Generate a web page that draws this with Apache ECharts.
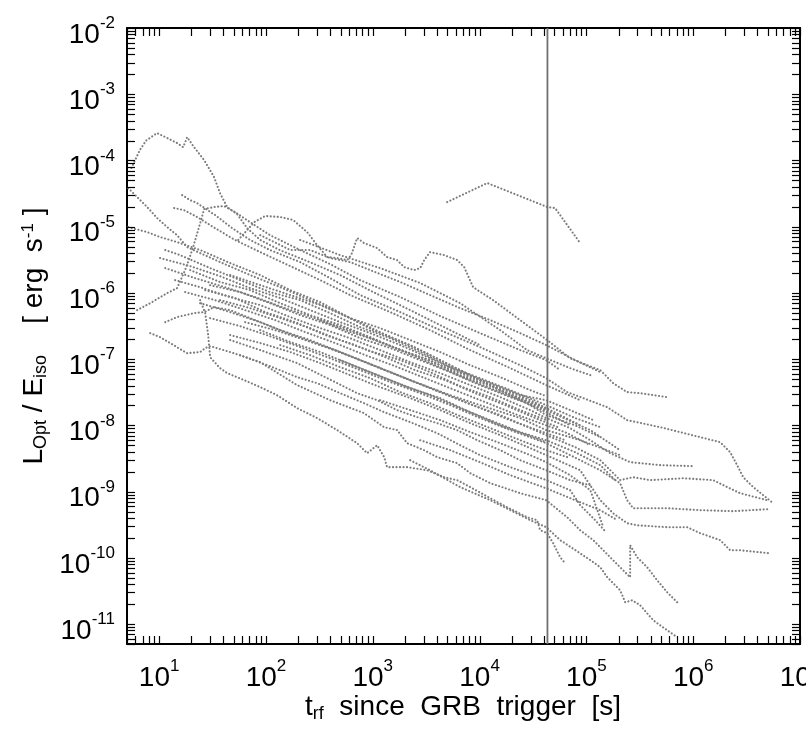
<!DOCTYPE html>
<html><head><meta charset="utf-8">
<script src="https://cdn.jsdelivr.net/npm/echarts@6/dist/echarts.min.js"></script>
<style>html,body{margin:0;padding:0;background:#fff}#c{width:806px;height:732px}</style>
</head><body><div id="c"></div>
<script>
// ---- axis ranges / tick labels (exponents of ten) ----
const xRange = [5, 1e7];
const yRange = [5e-12, 1e-2];
const xTickExponents = [1, 2, 3, 4, 5, 6, 7];
const yTickExponents = [-2, -3, -4, -5, -6, -7, -8, -9, -10, -11];
const markTime = 43200; // vertical reference line [s]

// ---- light curves: [t_rf (s), L_Opt/E_iso (erg s^-1)] ----
const grbA = [[5.5,7.7e-5],[6.6,1.44e-4],[7.55,2.0e-4],[9.57,2.59e-4],[11.9,2.18e-4],[14.7,1.83e-4],[16.8,1.59e-4],[18.3,2.25e-4],[21.2,1.59e-4],[26.4,1.01e-4],[32.7,5.6e-5],[37.2,3.2e-5],[43.3,1.98e-5],[53.7,1.55e-5],[66.7,9.5e-6],[88.3,6.3e-6],[136,4.4e-6],[259,2.9e-6],[495,1.86e-6],[1010,1.03e-6],[2240,5.5e-7],[5310,2.74e-7],[1.01e4,1.63e-7]];
const grbB = [[5.13,3.83e-5],[6.22,2.8e-5],[7.73,1.98e-5],[9.57,1.35e-5],[11.9,9.86e-6],[14.7,7.46e-6],[18.3,4.92e-6],[24.2,3.99e-6],[37.2,2.92e-6],[71.1,1.86e-6],[136,1.22e-6],[259,7.78e-7],[495,4.95e-7],[1010,2.74e-7],[2240,1.63e-7],[5310,8.1e-8],[1.01e4,4.82e-8],[2.4e4,2.4e-8],[4.21e4,1.58e-8],[7.05e4,1.0e-8]];
const grbC = [[5.13,9.86e-6],[7.73,8.28e-6],[10.2,6.97e-6],[14.7,5.85e-6],[24.2,4.44e-6],[46.2,2.82e-6],[88.3,1.86e-6],[169,1.1e-6],[322,7.26e-7],[614,4.16e-7],[1170,2.56e-7],[2780,1.37e-7],[6580,6.82e-8],[1.56e4,3.4e-8],[4.21e4,1.7e-8],[1.09e5,8.47e-9],[2.07e5,4.22e-9]];
const grbD = [[16.4,3.0e-5],[19.5,2.52e-5],[22.7,2.27e-5],[33.4,1.5e-5],[48.3,9.5e-6],[71.1,6.3e-6],[109,4.44e-6],[209,2.92e-6],[399,1.67e-6],[762,9.27e-7],[1810,5.13e-7],[4280,2.74e-7],[1.01e4,1.52e-7],[2.4e4,8.1e-8],[4.21e4,5.16e-8],[6.61e4,3.18e-8],[9.33e4,2.58e-8],[1.57e5,1.88e-8],[2.41e5,1.2e-8],[4.91e5,9.4e-9],[1.16e6,6.64e-9],[1.79e6,5.57e-9],[2.22e6,3.94e-9],[2.58e6,2.51e-9],[2.94e6,1.65e-9],[3.65e6,1.17e-9],[5.61e6,6.68e-10]];
const grbE = [[13.8,1.91e-5],[17.1,1.78e-5],[22.7,1.4e-5],[33.4,9.5e-6],[51.4,6.3e-6],[88.3,4.13e-6],[169,2.54e-6],[322,1.56e-6],[614,9.27e-7],[1460,5.13e-7],[3440,2.74e-7],[8170,1.37e-7],[1.94e4,7.31e-8],[4.21e4,4.05e-8],[8.75e4,2.4e-8]];
const grbF = [[55,6.3e-6],[66.7,8.9e-6],[77.6,1.17e-5],[98.4,1.45e-5],[136,1.4e-5],[180,1.26e-5],[209,1.02e-5],[243,8.28e-6],[301,5.27e-6],[374,3.48e-6],[465,3.36e-6],[575,3.13e-6],[628,3.72e-6],[714,6.73e-6],[830,5.65e-6],[1100,4.75e-6],[1360,3.48e-6],[1690,3.13e-6],[1970,2.45e-6],[2440,2.21e-6],[2780,2.37e-6],[3030,3.13e-6],[3440,4.13e-6],[4660,3.72e-6],[6170,3.13e-6],[7180,2.45e-6],[8710,1.22e-6],[1.34e4,7.78e-7],[2.4e4,3.88e-7],[4.3e4,1.94e-7],[7.05e4,1.03e-7],[1.02e5,8.1e-8],[1.35e5,6.82e-8],[1.78e5,4.34e-8],[2.41e5,3.18e-8],[3.19e5,3.06e-8],[5.71e5,2.67e-8]];
const grbIso = [[4970,2.35e-5],[1.18e4,4.56e-5],[4.3e4,1.98e-5],[5.1e4,1.91e-5],[8.75e4,5.65e-6]];
const grbR1 = [[6.22,5.5e-7],[8.24,7.0e-7],[11.9,9.93e-7],[14.7,1.18e-6],[17.5,2.21e-6],[20.4,4.44e-6],[23.2,8.9e-6],[26.4,1.85e-5],[32.7,1.98e-5],[40.6,2.05e-5],[51.4,1.66e-5],[71.1,1.17e-5],[109,7.46e-6],[209,4.44e-6],[399,2.72e-6],[762,1.56e-6],[1810,8.65e-7],[4280,4.47e-7],[1.01e4,2.47e-7],[2.4e4,1.37e-7],[4.21e4,9.66e-8],[5.69e4,6.82e-8]];
const grbR2 = [[11.4,3.62e-7],[14.7,4.31e-7],[21.2,4.95e-7],[26.4,5.13e-7],[32.7,6.1e-7],[46.2,5.5e-7],[71.1,4.16e-7],[136,2.74e-7],[259,1.94e-7],[495,1.28e-7],[1010,8.1e-8],[2240,4.82e-8],[5310,2.86e-8],[1.01e4,2.02e-8],[2.4e4,1.29e-8],[4.21e4,8.47e-9],[8.75e4,5.97e-9],[2.07e5,3.55e-9]];
const grbL1 = [[8.24,2.47e-7],[10.2,2.15e-7],[12.7,1.75e-7],[15.7,1.42e-7],[18.3,1.23e-7],[24.2,1.28e-7],[27,1.47e-7],[30,1.57e-7],[46.2,1.28e-7],[88.3,9.0e-8],[196,4.05e-8],[399,2.4e-8],[830,1.53e-8],[1280,9.4e-9],[1690,8.47e-9],[2100,5.38e-9],[3030,4.22e-9],[4010,3.31e-9],[6170,2.69e-9],[8170,1.9e-9],[1.26e4,1.34e-9],[2.4e4,9.46e-10],[4.21e4,7.41e-10],[6.61e4,4.1e-10],[8.75e4,2.61e-10],[1.16e5,1.85e-10],[1.44e5,1.3e-10],[1.78e5,9.2e-11],[2.21e5,6.5e-11],[2.57e5,5.09e-11],[2.57e5,1.55e-10],[2.99e5,1.02e-10],[3.71e5,7.2e-11],[4.6e5,4.59e-11],[5.71e5,3.02e-11],[7.24e5,2.06e-11]];
const grbLow = [[24.2,7.78e-7],[27,4.95e-7],[28.8,2.31e-7],[30,1.07e-7],[37.2,7.31e-8],[43.3,6.15e-8],[62.5,4.82e-8],[88.3,3.78e-8],[127,2.86e-8],[196,1.82e-8],[301,1.29e-8],[465,8.47e-9],[714,5.38e-9],[885,3.8e-9],[1100,5.02e-9],[1280,3.31e-9],[1360,2.34e-9],[2100,2.34e-9],[3230,2.1e-9],[4660,1.65e-9],[6170,1.49e-9],[8170,1.17e-9],[1.26e4,7.94e-10],[1.81e4,5.81e-10],[2.79e4,4.1e-10],[3.46e4,3.7e-10],[3.69e4,2.61e-10],[4.3e4,2.36e-10],[4.89e4,1.66e-10],[5.69e4,1.02e-10],[6.32e4,8.3e-11]];
const grbBottom = [[2240,2.98e-9],[3440,2.1e-9],[6580,1.17e-9],[1.26e4,7.41e-10],[1.94e4,5.24e-10],[2.98e4,3.7e-10],[4.21e4,2.9e-10],[5.69e4,1.85e-10],[8.75e4,1.17e-10],[1.16e5,8.6e-11],[1.35e5,7.2e-11],[1.57e5,5.09e-11],[2.07e5,3.24e-11],[2.31e5,2.13e-11],[2.69e5,2.29e-11],[3.19e5,1.92e-11],[4.23e5,1.14e-11],[5.71e5,8.05e-12],[7.1e5,6.3e-12]];
const band1 = [[11.4,4.44e-6],[15.7,3.72e-6],[30,2.37e-6],[57.3,1.56e-6],[109,1.03e-6],[209,7.78e-7],[399,4.95e-7],[762,3.04e-7],[1460,2.07e-7],[2780,1.28e-7],[5310,7.57e-8],[1.01e4,5.16e-8],[1.94e4,3.4e-8],[4.21e4,2.02e-8],[7.85e4,1.29e-8],[1.35e5,9.4e-9]];
const band2 = [[10.2,3.36e-6],[19.5,2.54e-6],[37.2,1.79e-6],[71.1,1.18e-6],[136,8.36e-7],[259,5.5e-7],[495,3.62e-7],[946,2.47e-7],[1810,1.63e-7],[3440,1.03e-7],[6580,6.37e-8],[1.26e4,4.34e-8],[2.4e4,2.86e-8],[4.21e4,2.4e-8],[7.05e4,1.7e-8],[1.16e5,1.2e-8]];
const band3 = [[11.4,2.37e-6],[21.7,1.67e-6],[41.5,1.22e-6],[79.3,8.65e-7],[151,5.89e-7],[289,4.16e-7],[552,2.74e-7],[1050,1.94e-7],[2010,1.28e-7],[3840,8.1e-8],[7330,5.16e-8],[1.4e4,3.4e-8],[2.67e4,2.24e-8],[4.21e4,1.43e-8],[7.85e4,1.0e-8],[1.35e5,6.64e-9]];
const band4 = [[14.1,1.56e-6],[24.2,1.22e-6],[46.2,8.65e-7],[88.3,6.55e-7],[169,4.31e-7],[322,2.94e-7],[614,2.07e-7],[1170,1.37e-7],[2240,9.0e-8],[4280,6.15e-8],[8170,4.05e-8],[1.56e4,2.67e-8],[2.98e4,1.7e-8],[4.21e4,1.29e-8],[7.05e4,9.08e-9],[1.09e5,5.97e-9],[1.67e5,3.8e-9],[2.57e5,2.78e-9],[4.91e5,2.51e-9],[1.0e6,2.42e-9]];
const band5 = [[17.5,1.03e-6],[33.4,7.78e-7],[63.8,5.5e-7],[122,3.88e-7],[233,2.56e-7],[445,1.75e-7],[849,1.15e-7],[1620,7.83e-8],[3090,5.16e-8],[5900,3.4e-8],[1.13e4,2.24e-8],[2.15e4,1.48e-8],[4.21e4,1.0e-8],[6.32e4,7.9e-9],[1.09e5,5.02e-9]];
const band6 = [[24.2,7.0e-7],[46.2,5.13e-7],[88.3,3.62e-7],[169,2.39e-7],[322,1.63e-7],[614,1.11e-7],[1170,7.31e-8],[2240,4.82e-8],[4280,3.18e-8],[8170,2.09e-8],[1.56e4,1.43e-8],[2.98e4,9.08e-9],[4.21e4,7.11e-9],[7.85e4,4.69e-9],[1.35e5,2.98e-9],[2.07e5,1.49e-9],[2.74e5,1.65e-9],[3.96e5,1.49e-9],[8.07e5,1.59e-9],[1.54e6,1.49e-9],[2.08e6,1.17e-9],[2.75e6,9.46e-10],[4.93e6,7.41e-10]];
const band7 = [[30,4.16e-7],[57.3,3.15e-7],[109,2.22e-7],[209,1.52e-7],[399,1.03e-7],[762,6.82e-8],[1460,4.5e-8],[2780,3.06e-8],[5310,2.02e-8],[1.01e4,1.29e-8],[1.94e4,8.47e-9],[4.21e4,5.38e-9],[7.05e4,3.55e-9],[1.35e5,2.1e-9],[2.07e5,1.34e-9],[2.41e5,7.41e-10],[2.74e5,5.61e-10],[5.71e5,5.61e-10],[1.16e6,5.24e-10],[2.37e6,5.06e-10],[4.93e6,5.42e-10]];
const band8 = [[46.2,2.31e-7],[88.3,1.75e-7],[169,1.28e-7],[322,8.71e-8],[614,5.73e-8],[1170,3.78e-8],[2240,2.58e-8],[4280,1.7e-8],[8170,1.08e-8],[1.56e4,7.11e-9],[2.98e4,4.53e-9],[4.21e4,3.55e-9],[8.75e4,2.1e-9],[1.35e5,7.41e-10],[1.78e5,4.72e-10],[2.41e5,3.33e-10],[2.99e5,3.1e-10],[5.71e5,2.9e-10],[8.79e5,2.9e-10],[1.16e6,2.36e-10],[1.79e6,1.85e-10],[2.22e6,1.3e-10],[2.75e6,1.3e-10],[5.26e6,1.17e-10]];
const band9 = [[19.5,2.21e-6],[37.2,1.46e-6],[71.1,1.1e-6],[136,7.0e-7],[259,4.62e-7],[495,3.27e-7],[946,2.15e-7],[1810,1.37e-7],[3440,9.66e-8],[6580,5.73e-8],[1.26e4,3.91e-8],[2.4e4,2.58e-8],[4.21e4,1.82e-8]];
const band10 = [[27,1.1e-6],[51.4,8.36e-7],[98.4,5.13e-7],[188,3.62e-7],[358,2.31e-7],[684,1.63e-7],[1310,1.07e-7],[2490,6.82e-8],[4760,4.82e-8],[9100,3.06e-8],[1.74e4,2.02e-8],[3.32e4,1.29e-8],[5.69e4,9.08e-9]];
const band11 = [[37.2,7.78e-7],[71.1,5.89e-7],[136,4.16e-7],[259,2.94e-7],[495,1.94e-7],[946,1.32e-7],[1810,9.66e-8],[3440,6.37e-8],[6580,3.91e-8],[1.26e4,2.67e-8],[2.4e4,1.7e-8],[4.21e4,1.2e-8]];
const band12 = [[63.8,3.62e-7],[122,2.74e-7],[233,1.94e-7],[445,1.37e-7],[849,9.0e-8],[1620,5.93e-8],[3090,3.91e-8],[5900,2.58e-8],[1.13e4,1.7e-8],[2.15e4,1.12e-8],[4.21e4,7.62e-9],[6.32e4,5.97e-9]];
const band13 = [[88.3,2.74e-7],[169,1.81e-7],[322,1.28e-7],[614,8.41e-8],[1170,5.53e-8],[2240,3.65e-8],[4280,2.58e-8],[8170,1.58e-8],[1.56e4,1.0e-8],[2.98e4,6.87e-9],[4.21e4,5.57e-9]];
const band14 = [[136,1.63e-7],[259,1.15e-7],[495,7.57e-8],[946,5.16e-8],[1810,3.18e-8],[3440,2.16e-8],[6580,1.38e-8],[1.26e4,9.08e-9],[2.4e4,5.97e-9],[4.21e4,4.22e-9],[7.05e4,3.2e-9]];
const band15 = [[30,1.31e-6],[57.3,1.03e-6],[109,7.0e-7],[209,4.62e-7],[399,3.27e-7],[762,2.07e-7],[1460,1.47e-7],[2780,9.66e-8],[5310,6.37e-8],[1.01e4,4.05e-8],[1.94e4,2.67e-8],[4.21e4,1.7e-8]];
const band16 = [[46.2,1.86e-6],[88.3,1.31e-6],[169,9.27e-7],[322,6.55e-7],[614,4.16e-7],[1170,2.94e-7],[2240,1.94e-7],[4280,1.28e-7],[8170,8.1e-8],[1.56e4,5.35e-8],[2.98e4,3.4e-8],[4.21e4,2.76e-8]];
const band17 = [[322,3.88e-7],[614,2.74e-7],[1170,1.81e-7],[2240,1.23e-7],[4280,8.1e-8],[8170,5.35e-8],[1.56e4,3.65e-8],[2.98e4,2.4e-8],[5.69e4,1.43e-8],[8.75e4,1.0e-8]];
const band18 = [[495,9.66e-8],[946,6.37e-8],[1810,4.19e-8],[3440,2.86e-8],[6580,1.82e-8],[1.26e4,1.2e-8],[2.4e4,7.9e-9],[4.21e4,5.97e-9],[7.85e4,3.94e-9],[1.35e5,2.51e-9],[1.86e5,1.49e-9]];
const band19 = [[1170,2.4e-8],[2240,1.7e-8],[4280,1.2e-8],[8170,7.9e-9],[1.56e4,5.38e-9],[2.98e4,3.55e-9],[4.21e4,2.78e-9],[7.05e4,1.77e-9],[1.09e5,1.05e-9],[1.44e5,2.9e-10]];
const band20 = [[2780,5.97e-9],[5310,4.22e-9],[1.01e4,2.78e-9],[1.94e4,1.77e-9],[4.21e4,1.12e-9],[7.85e4,7.41e-10],[1.35e5,5.24e-10],[1.95e5,3.7e-10]];
const upper1 = [[88.3,7.46e-6],[169,4.44e-6],[259,4.44e-6],[399,3.36e-6],[614,2.92e-6],[946,2.21e-6],[1810,1.46e-6],[3440,9.27e-7],[6580,5.89e-7],[1.26e4,3.88e-7],[2.4e4,2.47e-7],[4.21e4,1.63e-7],[7.85e4,9.66e-8],[1.35e5,6.37e-8]];
const upper2 = [[209,6.3e-6],[495,3.72e-6],[1170,2.37e-6],[2780,1.41e-6],[6580,7.0e-7],[1.56e4,2.74e-7],[2.79e4,1.37e-7],[4.21e4,1.03e-7],[7.05e4,7.31e-8],[1.09e5,5.73e-8]];
const lower1 = [[46.2,1.94e-7],[88.3,1.37e-7],[196,8.71e-8],[301,6.15e-8],[465,4.34e-8],[714,3.06e-8],[1100,2.4e-8],[1690,1.7e-8],[2610,1.33e-8],[4010,1.08e-8],[6170,8.47e-9],[9510,5.97e-9],[1.56e4,4.22e-9],[2.4e4,2.98e-9],[4.21e4,2.1e-9],[7.05e4,1.49e-9],[1.09e5,1.25e-9]];
const lower2 = [[57.3,1.15e-7],[109,7.83e-8],[196,5.35e-8],[301,4.34e-8],[495,3.06e-8],[830,2.16e-8],[1280,1.58e-8],[2240,1.12e-8],[4010,7.62e-9],[6580,5.02e-9],[1.01e4,3.55e-9],[1.94e4,2.34e-9],[4.21e4,1.49e-9],[7.05e4,1.05e-9],[8.75e4,6.24e-10],[1.21e5,3.7e-10],[1.47e5,2.61e-10]];

const curves = [grbA, grbB, grbC, grbD, grbE, grbF, grbIso, grbR1, grbR2, grbL1, grbLow, grbBottom,
  band1, band2, band3, band4, band5, band6, band7, band8, band9, band10, band11, band12, band13,
  band14, band15, band16, band17, band18, band19, band20, upper1, upper2, lower1, lower2];

// ---- chart ----
const chart = echarts.init(document.getElementById('c'), null, {renderer: 'canvas'});
const NARROW = '"Liberation Sans Narrow", "Liberation Sans", Arial, sans-serif';
const REG = '"Liberation Sans", Arial, sans-serif';

function powLabel(v) {
  const lg = Math.log10(v);
  const e = Math.round(lg);
  if (Math.abs(lg - e) > 1e-6) return '';
  return '{b|10}{s|' + e + '}';
}
const labelRich = {
  b: {fontSize: 28, fontFamily: NARROW, color: '#000', lineHeight: 34, verticalAlign: 'bottom'},
  s: {fontSize: 17, fontFamily: NARROW, color: '#000', lineHeight: 18, verticalAlign: 'top'}
};

// minor/major tick marks at 1..9 x 10^k on all four sides, placed via the axes' scales
const tickItems = [];
for (let e = 0; e <= 7; e++) for (let m = 1; m <= 9; m++) {
  const v = m * Math.pow(10, e);
  if (v >= xRange[0] && v <= xRange[1]) tickItems.push([v, 1e-6, 0]);
}
for (let e = -12; e <= -2; e++) for (let m = 1; m <= 9; m++) {
  const v = m * Math.pow(10, e);
  if (v >= yRange[0] * 0.999 && v <= yRange[1] * 1.001) tickItems.push([100, v, 1]);
}
function renderTick(params, api) {
  const cs = params.coordSys;
  const kind = api.value(2);
  const len = 8;
  const style = {stroke: '#000', lineWidth: 1.2};
  if (kind === 0) {
    const px = Math.round(api.coord([api.value(0), 1e-6])[0]) + 0.5;
    return {type: 'group', children: [
      {type: 'line', shape: {x1: px, y1: cs.y + cs.height, x2: px, y2: cs.y + cs.height - len}, style},
      {type: 'line', shape: {x1: px, y1: cs.y, x2: px, y2: cs.y + len}, style}
    ]};
  }
  const py = Math.round(api.coord([100, api.value(1)])[1]) + 0.5;
  return {type: 'group', children: [
    {type: 'line', shape: {x1: cs.x, y1: py, x2: cs.x + len, y2: py}, style},
    {type: 'line', shape: {x1: cs.x + cs.width, y1: py, x2: cs.x + cs.width - len, y2: py}, style}
  ]};
}

const series = curves.map((d, i) => ({
  type: 'line', name: 'grb' + i, data: d, symbol: 'none', showSymbol: false,
  silent: true, animation: false, z: 2,
  lineStyle: {color: '#7c7c7c', width: 2.1, type: [0.1, 3.4], cap: 'round'}
}));
series.push({
  type: 'line', name: 'mark', data: [[markTime, yRange[0]], [markTime, yRange[1]]],
  symbol: 'none', silent: true, animation: false, z: 3,
  lineStyle: {color: '#707070', width: 1.8, type: 'solid'}
});
series.push({
  type: 'custom', name: 'ticks', data: tickItems, renderItem: renderTick,
  silent: true, animation: false, z: 5, clip: false
});

const axisBase = {type: 'log', logBase: 10, splitLine: {show: false}, axisTick: {show: false},
  axisLine: {show: true, onZero: false, lineStyle: {color: '#000', width: 2}}};

chart.setOption({
  animation: false,
  backgroundColor: '#fff',
  grid: {left: 127, right: 6, top: 28, bottom: 88, containLabel: false, outerBoundsMode: 'none'},
  xAxis: [
    Object.assign({}, axisBase, {position: 'bottom', min: xRange[0], max: xRange[1], splitNumber: 7,
      axisLabel: {formatter: powLabel, rich: labelRich, margin: 14, showMinLabel: true, showMaxLabel: true}}),
    Object.assign({}, axisBase, {position: 'top', min: xRange[0], max: xRange[1], splitNumber: 7,
      axisLabel: {show: false}})
  ],
  yAxis: [
    Object.assign({}, axisBase, {position: 'left', min: yRange[0], max: yRange[1], splitNumber: 10,
      axisLabel: {formatter: powLabel, rich: labelRich, margin: 12, padding: [8, 0, 0, 0]}}),
    Object.assign({}, axisBase, {position: 'right', min: yRange[0], max: yRange[1], splitNumber: 10,
      axisLabel: {show: false}})
  ],
  graphic: [
    {type: 'text', x: 463, y: 708, silent: true, style: {
      text: '{m|t}{sub|rf}{m|  since  GRB  trigger  [s]}',
      align: 'center', verticalAlign: 'middle', fill: '#000',
      rich: {
        m: {fontSize: 28, fontFamily: NARROW, lineHeight: 30, verticalAlign: 'top', fill: '#000'},
        sub: {fontSize: 18, fontFamily: NARROW, lineHeight: 30, verticalAlign: 'bottom', fill: '#000'}
      }}},
    {type: 'text', x: 35, y: 336, rotation: Math.PI / 2, silent: true, style: {
      text: '{m|L}{sub|Opt}{m| / E}{sub|iso}{m|    [ erg  s}{sup|-1}{m| ]}',
      align: 'center', verticalAlign: 'middle', fill: '#000',
      rich: {
        m: {fontSize: 28, fontFamily: REG, lineHeight: 30, verticalAlign: 'top', fill: '#000'},
        sub: {fontSize: 18, fontFamily: REG, lineHeight: 30, verticalAlign: 'bottom', fill: '#000'},
        sup: {fontSize: 17, fontFamily: REG, lineHeight: 30, verticalAlign: 'top', fill: '#000'}
      }}}
  ],
  series: series
});
</script></body></html>
